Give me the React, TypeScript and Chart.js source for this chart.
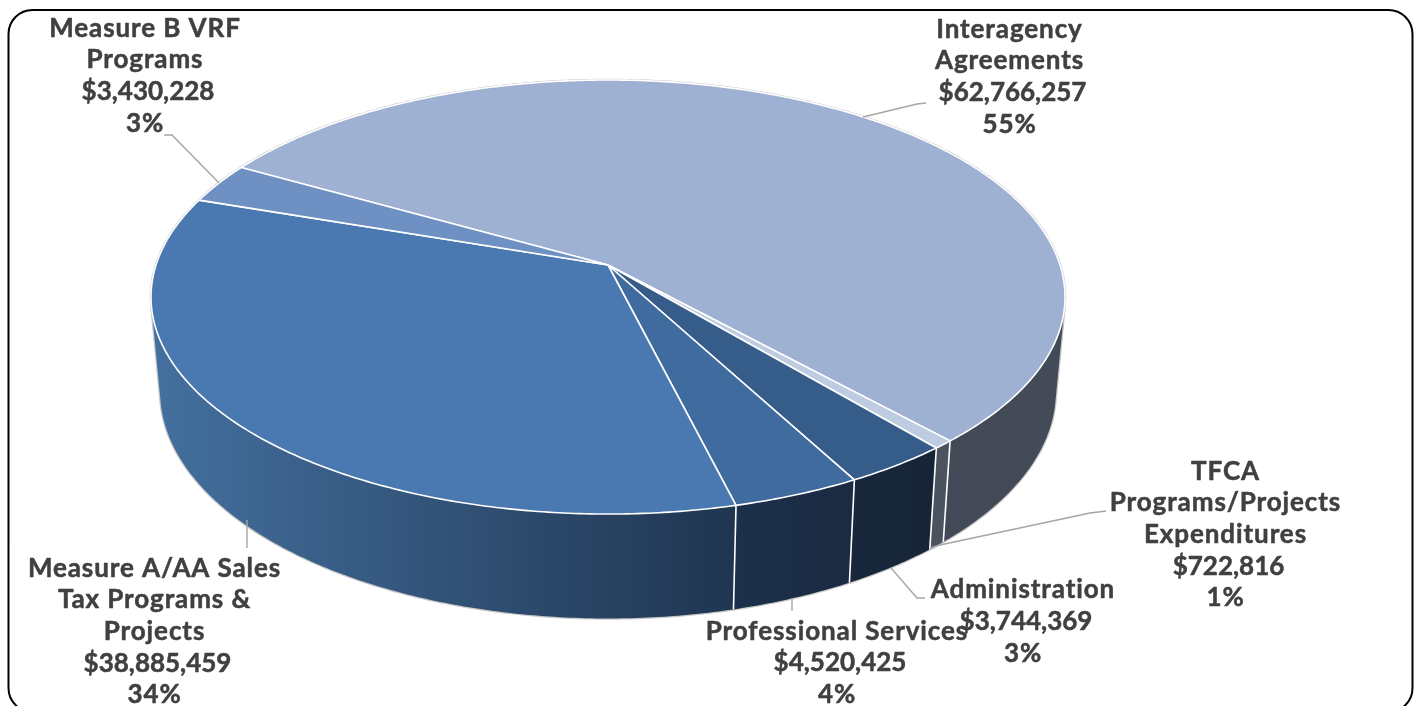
import React, { useEffect, useRef } from "react";
import { Chart, registerables, ArcElement, PieController } from "chart.js";

// Budget shares, listed clockwise from the back of the pie.
const categories = [
  ["Interagency", "Agreements"],
  ["TFCA", "Programs/Projects", "Expenditures"],
  ["Administration"],
  ["Professional Services"],
  ["Measure A/AA Sales", "Tax Programs &", "Projects"],
  ["Measure B VRF", "Programs"],
];
const amounts = [62766257, 722816, 3744369, 4520425, 38885459, 3430228];

const faceColors = ["#9eb1d2", "#bdcce1", "#365c8a", "#3f6b9f", "#4a79b1", "#6f90c2"];
// Wall shading, left colour then right colour.
const wallGradients = [
  ["#434956", "#444b58"],
  ["#4b545e", "#4b545e"],
  ["#18283c", "#162436"],
  ["#1c304b", "#1a2b41"],
  ["#44709f", "#1f3550"],
  ["#6f90c2", "#6f90c2"],
];

// Label anchor (centre x, first line centre y) and the leader line of each slice.
const labelLayout = [
  { x: 1009.5, y: 29.5 },
  { x: 1225.5, y: 471.5 },
  { x: 1023, y: 590 },
  { x: 837, y: 631.5 },
  { x: 154.5, y: 568.5 },
  { x: 145, y: 28.5 },
];
const leaderLines = [
  [[926, 103], [917, 104], [863, 117]],
  [[1106, 511], [1090, 513], [940, 545], [930, 548]],
  [[925, 598], [917, 598], [891, 568]],
  [[792, 598], [792, 611]],
  [[247, 520], [247, 548]],
  [[164, 135], [172, 135], [219, 183]],
];
const LINE_HEIGHT = 31.6;
const LABEL_FONT = "bold 26px Lato";
const LABEL_SPACING = "0.9px";
const AMOUNT_SPACING = "0px";
const AMOUNT_NUDGE = 3;

// The pie lies on a tilted plane: rim points go through a perspective divide.
const VIEW = { cx: 608, cy: 265, rx: 452, ry: 212.3, k: 0.1475 };
const BASE = { xScale: 0.98, yScale: 1.046, yShift: 80.8 };

const rimPoint = (t: number) => {
  const u = Math.cos(t);
  const v = Math.sin(t);
  const w = 1 - VIEW.k * v;
  return { x: VIEW.cx + (VIEW.rx * u) / w, y: VIEW.cy + (VIEW.ry * v) / w };
};
const basePoint = (t: number) => {
  const p = rimPoint(t);
  return { x: VIEW.cx + (p.x - VIEW.cx) * BASE.xScale, y: p.y * BASE.yScale + BASE.yShift };
};

// Finds where the side wall turns away from the viewer, walking out from the front.
const silhouetteAngle = (dir: number) => {
  const step = 0.002;
  let t = Math.PI / 2;
  for (let i = 0; i < 1600; i++) {
    const a = rimPoint(t);
    const b = rimPoint(t + dir * step);
    const o = basePoint(t);
    const cross = (b.x - a.x) * (o.y - a.y) - (b.y - a.y) * (o.x - a.x);
    if (cross * dir > 0) return t;
    t += dir * step;
  }
  return t;
};

const sampleAngles = (start: number, end: number) => {
  const n = Math.max(2, Math.ceil((end - start) / 0.01));
  const out: number[] = [];
  for (let i = 0; i <= n; i++) out.push(start + ((end - start) * i) / n);
  return out;
};

class PerspectiveArc extends ArcElement {
  static id = "perspectiveArc";
  draw(ctx: CanvasRenderingContext2D) {
    const { startAngle, endAngle } = (this as any).getProps(["startAngle", "endAngle"]);
    const opts = (this as any).options;
    ctx.save();
    ctx.beginPath();
    ctx.moveTo(VIEW.cx, VIEW.cy);
    for (const t of sampleAngles(startAngle, endAngle)) {
      const p = rimPoint(t);
      ctx.lineTo(p.x, p.y);
    }
    ctx.closePath();
    ctx.fillStyle = opts.backgroundColor;
    ctx.fill();
    ctx.lineJoin = "round";
    ctx.lineWidth = opts.borderWidth;
    ctx.strokeStyle = opts.borderColor;
    ctx.stroke();
    ctx.restore();
  }
}

class Pie3DController extends PieController {
  static id = "pie3d";
  static defaults = { dataElementType: "perspectiveArc" };
}

const framePlugin = {
  id: "frame",
  beforeDraw(chart: any) {
    const { ctx } = chart;
    ctx.save();
    ctx.fillStyle = "#ffffff";
    ctx.fillRect(0, 0, chart.width, chart.height);
    ctx.beginPath();
    ctx.roundRect(8.5, 10, 1404, 702, 24);
    ctx.strokeStyle = "#000000";
    ctx.lineWidth = 2;
    ctx.stroke();
    ctx.restore();
  },
};

// Side walls and their outline go under the slice faces.
const wallPlugin = {
  id: "walls",
  beforeDatasetsDraw(chart: any) {
    const { ctx } = chart;
    const arcs = chart.getDatasetMeta(0).data;
    const right = silhouetteAngle(-1);
    const left = silhouetteAngle(1);
    ctx.save();

    ctx.strokeStyle = "#c8c8c8";
    ctx.lineWidth = 2.5;
    ctx.beginPath();
    sampleAngles(0, Math.PI * 2).forEach((t, i) => {
      const p = rimPoint(t);
      if (i) ctx.lineTo(p.x, p.y);
      else ctx.moveTo(p.x, p.y);
    });
    ctx.closePath();
    ctx.stroke();
    ctx.beginPath();
    const rEnd = rimPoint(right);
    ctx.moveTo(rEnd.x, rEnd.y);
    for (const t of sampleAngles(right, left)) {
      const p = basePoint(t);
      ctx.lineTo(p.x, p.y);
    }
    const lEnd = rimPoint(left);
    ctx.lineTo(lEnd.x, lEnd.y);
    ctx.stroke();

    arcs.forEach((arc: any, i: number) => {
      const start = Math.max(arc.startAngle, right);
      const end = Math.min(arc.endAngle, left);
      if (end <= start) return;
      const angles = sampleAngles(start, end);
      const top = angles.map(rimPoint);
      const bottom = angles.map(basePoint).reverse();
      const pts = [...top, ...bottom];
      const xs = pts.map((p) => p.x);
      const grad = ctx.createLinearGradient(Math.min(...xs), 0, Math.max(...xs), 0);
      grad.addColorStop(0, wallGradients[i][0]);
      grad.addColorStop(1, wallGradients[i][1]);
      ctx.beginPath();
      pts.forEach((p, j) => (j ? ctx.lineTo(p.x, p.y) : ctx.moveTo(p.x, p.y)));
      ctx.closePath();
      ctx.fillStyle = grad;
      ctx.fill();
    });

    // Seams between neighbouring walls.
    ctx.strokeStyle = "#ffffff";
    ctx.lineWidth = 1.6;
    arcs.forEach((arc: any) => {
      const t = arc.endAngle;
      if (t <= right || t >= left) return;
      const a = rimPoint(t);
      const b = basePoint(t);
      ctx.beginPath();
      ctx.moveTo(a.x, a.y);
      ctx.lineTo(b.x, b.y);
      ctx.stroke();
    });
    ctx.restore();
  },
};

const labelPlugin = {
  id: "sliceLabels",
  afterDatasetsDraw(chart: any) {
    const { ctx } = chart;
    const total = amounts.reduce((a, b) => a + b, 0);
    ctx.save();
    ctx.strokeStyle = "#a6a6a6";
    ctx.lineWidth = 1.4;
    for (const line of leaderLines) {
      ctx.beginPath();
      line.forEach(([x, y], j) => (j ? ctx.lineTo(x, y) : ctx.moveTo(x, y)));
      ctx.stroke();
    }
    ctx.font = LABEL_FONT;
    ctx.fillStyle = "#404040";
    ctx.strokeStyle = "#404040";
    ctx.lineWidth = 0.5;
    ctx.lineJoin = "round";
    ctx.textAlign = "center";
    ctx.textBaseline = "middle";
    const put = (text: string, x: number, y: number, spacing: string) => {
      (ctx as any).letterSpacing = spacing;
      ctx.fillText(text, x, y);
      ctx.strokeText(text, x, y);
    };
    categories.forEach((name, i) => {
      const { x, y } = labelLayout[i];
      name.forEach((text, j) => put(text, x, y + j * LINE_HEIGHT, LABEL_SPACING));
      const row = name.length;
      put("$" + amounts[i].toLocaleString("en-US"), x + AMOUNT_NUDGE, y + row * LINE_HEIGHT, AMOUNT_SPACING);
      put(Math.round((amounts[i] / total) * 100) + "%", x, y + (row + 1) * LINE_HEIGHT, LABEL_SPACING);
    });
    ctx.restore();
  },
};

Chart.register(...registerables, PerspectiveArc, Pie3DController);

export default function App() {
  const canvasRef = useRef<HTMLCanvasElement>(null);
  useEffect(() => {
    document.body.style.margin = "0";
    const chart = new Chart(canvasRef.current!, {
      type: "pie3d" as any,
      data: {
        labels: categories.map((c) => c.join(" ")),
        datasets: [
          {
            data: amounts,
            backgroundColor: faceColors,
            borderColor: "#ffffff",
            borderWidth: 1.6,
          },
        ],
      },
      options: {
        animation: false,
        responsive: false,
        rotation: -60.5,
        events: [],
        plugins: { legend: { display: false }, tooltip: { enabled: false } },
      },
      plugins: [framePlugin, wallPlugin, labelPlugin],
    } as any);
    return () => chart.destroy();
  }, []);
  return <canvas ref={canvasRef} width={1420} height={706} style={{ display: "block" }} />;
}
